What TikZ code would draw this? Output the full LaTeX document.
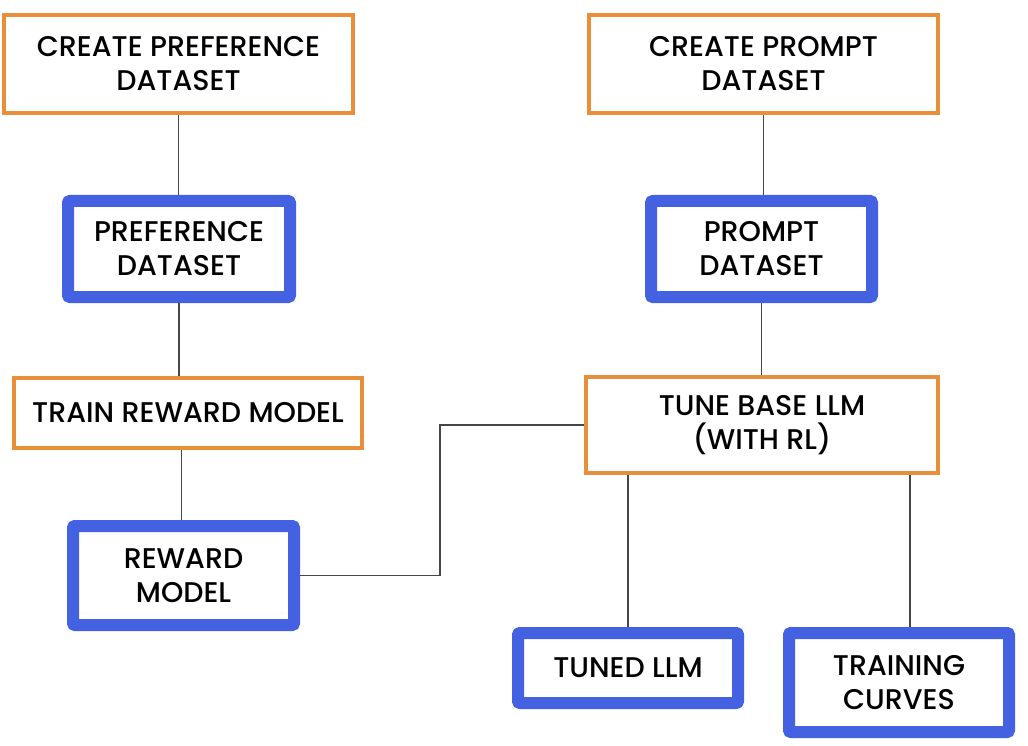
\documentclass[tikz,border=0pt]{standalone}
\usepackage{fontspec}
\setmainfont{Poppins}[UprightFont=* Medium]
\definecolor{boxorange}{RGB}{233,143,58}
\definecolor{boxblue}{RGB}{67,97,224}
\definecolor{linegray}{RGB}{70,70,70}
\begin{document}
\begin{tikzpicture}[x=1pt,y=-1pt,
  every node/.style={font=\fontsize{28.5}{34}\selectfont, align=center, inner sep=0pt},
  obox/.style={draw=boxorange, line width=4pt, fill=white},
  bbox/.style={draw=boxblue, line width=12pt, fill=white, rounded corners=2pt},
  conn/.style={draw=linegray, line width=1.5pt}]
\useasboundingbox (0,0) rectangle (1028,746);
\node[obox, minimum width=349pt, minimum height=98pt] (cpd) at (178.5,64) {CREATE PREFERENCE\\DATASET};
\node[obox, minimum width=349pt, minimum height=98pt] (cpr) at (763.5,64) {CREATE PROMPT\\DATASET};
\node[bbox, minimum width=222pt, minimum height=96pt] (pd) at (179,249) {PREFERENCE\\DATASET};
\node[bbox, minimum width=221pt, minimum height=96pt] (prd) at (761.5,249) {PROMPT\\DATASET};
\node[obox, minimum width=348pt, minimum height=70pt] (trm) at (188,413) {TRAIN REWARD MODEL};
\node[obox, minimum width=352pt, minimum height=96pt] (tb) at (762,425) {TUNE BASE LLM\\(WITH RL)};
\node[bbox, minimum width=221pt, minimum height=99pt] (rm) at (183.5,575.5) {REWARD\\MODEL};
\node[bbox, minimum width=220pt, minimum height=70pt] (tl) at (628,668) {TUNED LLM};
\node[bbox, minimum width=220pt, minimum height=99pt] (tc) at (899,682.5) {TRAINING\\CURVES};
\draw[conn] (cpd.south) -- (cpd.south |- pd.north);
\draw[conn] (pd.south) -- (pd.south |- trm.north);
\draw[conn] ([xshift=-2pt]rm.north |- trm.south) -- ([xshift=-2pt]rm.north);
\draw[conn] (cpr.south) -- (cpr.south |- prd.north);
\draw[conn] (prd.south) -- (prd.south |- tb.north);
\draw[conn] (rm.east) -- ++(140,0) |- (tb.west);
\draw[conn] (tl.north |- tb.south) -- (tl.north);
\draw[conn] ([xshift=11pt]tc.north |- tb.south) -- ([xshift=11pt]tc.north);
\end{tikzpicture}
\end{document}
